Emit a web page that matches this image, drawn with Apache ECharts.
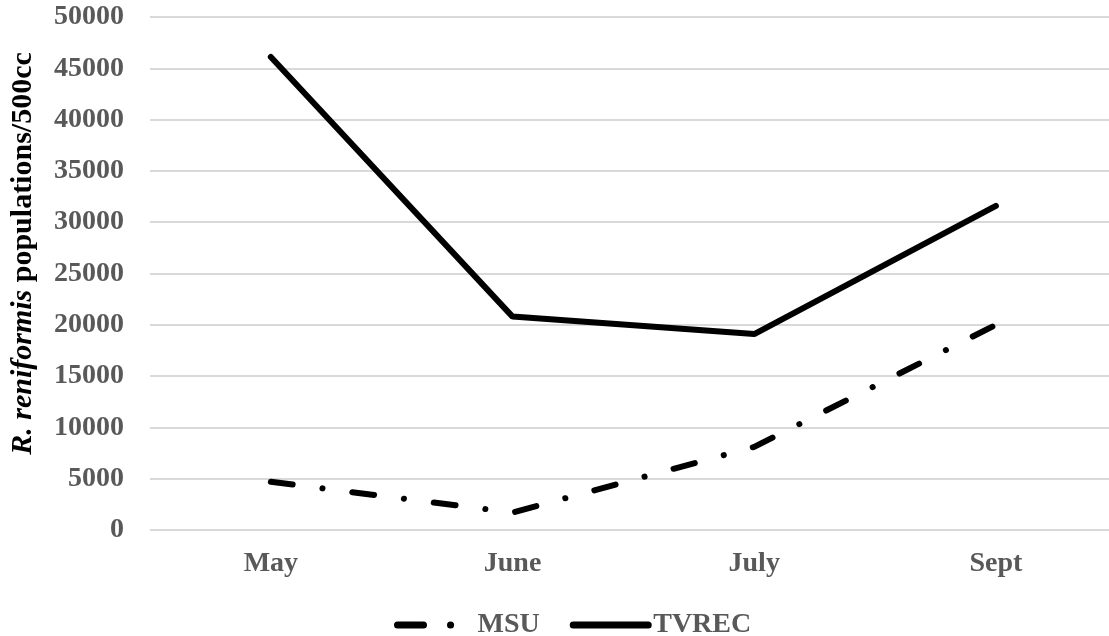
<!DOCTYPE html>
<html>
<head>
<meta charset="utf-8">
<script src="https://cdn.jsdelivr.net/npm/echarts@6/dist/echarts.min.js"></script>
<style>
html,body{margin:0;padding:0;background:#fff;}
#chart{width:1109px;height:636px;}
</style>
</head>
<body>
<div id="chart"></div>
<script>
const categories = ['May', 'June', 'July', 'Sept'];
const msu = [4700, 1700, 8100, 20000];
const tvrec = [46100, 20800, 19100, 31600];
const yTicks = { min: 0, max: 50000, interval: 5000 };

const font = '"Liberation Serif", "Times New Roman", serif';
const gray = '#595959';

const catIndex = categories.map(function (c, i) { return i; });
const msuData = categories.map(function (c, i) { return [i, msu[i]]; });
const tvrecData = categories.map(function (c, i) { return [i, tvrec[i]]; });

const chart = echarts.init(document.getElementById('chart'), null, { renderer: 'canvas' });
chart.setOption({
  animation: false,
  backgroundColor: '#fff',
  grid: { left: 150, right: 0, top: 17, bottom: 106, containLabel: false },
  xAxis: {
    type: 'value',
    min: -0.5,
    max: 3.468,
    axisLine: { show: false },
    axisTick: { show: false },
    splitLine: { show: false },
    axisLabel: {
      customValues: catIndex,
      formatter: function (v) { return categories[Math.round(v)]; },
      color: gray, fontFamily: font, fontWeight: 'bold', fontSize: 28, margin: 20
    }
  },
  yAxis: {
    type: 'value',
    min: yTicks.min, max: yTicks.max, interval: yTicks.interval,
    axisLine: { show: false },
    axisTick: { show: false },
    splitLine: { lineStyle: { color: '#d9d9d9', width: 2 } },
    axisLabel: { color: gray, fontFamily: font, fontWeight: 'bold', fontSize: 28, margin: 26,
      formatter: function (v) { return String(v); } },
    name: '{i|R. reniformis} populations/500cc',
    nameLocation: 'middle',
    nameRotate: 90,
    nameGap: 112,
    nameTextStyle: {
      color: '#000', fontFamily: font, fontWeight: 'bold', fontSize: 30,
      padding: [0, 0, 0, 40],
      rich: { i: { fontStyle: 'italic', fontWeight: 'bold', fontFamily: font, fontSize: 30, color: '#000' } }
    }
  },
  legend: {
    left: 389,
    top: 606,
    itemWidth: 75,
    itemHeight: 14,
    itemGap: 30,
    textStyle: { color: gray, fontFamily: font, fontWeight: 'bold', fontSize: 28 },
    data: [
      { name: 'MSU', itemStyle: { color: 'transparent', borderWidth: 0, opacity: 0 },
        lineStyle: { type: [26, 27, 0.1, 200], cap: 'round', width: 7 } },
      { name: 'TVREC', itemStyle: { color: 'transparent', borderWidth: 0, opacity: 0 },
        lineStyle: { width: 7 } }
    ]
  },
  series: [
    {
      name: 'MSU', type: 'line', data: msuData, symbol: 'none',
      lineStyle: { color: '#000', width: 6, type: [22, 30, 0.1, 30], cap: 'round' },
      itemStyle: { color: '#000' }
    },
    {
      name: 'TVREC', type: 'line', data: tvrecData, symbol: 'none',
      lineStyle: { color: '#000', width: 6, cap: 'round' },
      itemStyle: { color: '#000' }
    }
  ]
});
</script>
</body>
</html>
